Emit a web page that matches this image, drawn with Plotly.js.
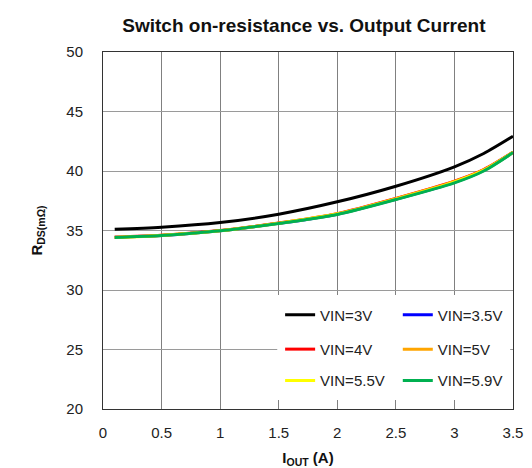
<!DOCTYPE html>
<html>
<head>
<meta charset="utf-8">
<script src="https://cdn.plot.ly/plotly-3.0.1.min.js"></script>
<style>html,body{margin:0;padding:0;background:#fff;}#chart{width:532px;height:468px;}</style>
</head>
<body>
<div id="chart"></div>
<script>
const current = [0.1, 0.5, 1.0, 1.5, 2.0, 2.5, 3.0, 3.25, 3.5];
const vin3   = [35.11, 35.28, 35.67, 36.37, 37.41, 38.72, 40.35, 41.47, 42.92];
const vin3p5 = [34.43, 34.59, 34.98, 35.60, 36.37, 37.63, 39.05, 40.05, 41.56];
const vin4   = [34.44, 34.60, 35.00, 35.63, 36.42, 37.70, 39.15, 40.12, 41.58];
const vin5   = [34.43, 34.60, 34.99, 35.62, 36.40, 37.68, 39.12, 40.10, 41.57];
const vin5p5 = [34.42, 34.59, 34.98, 35.60, 36.38, 37.64, 39.07, 40.05, 41.56];
const vin5p9 = [34.42, 34.58, 34.97, 35.59, 36.35, 37.60, 39.00, 40.00, 41.55];
const seriesNames = ['VIN=3V', 'VIN=3.5V', 'VIN=4V', 'VIN=5V', 'VIN=5.5V', 'VIN=5.9V'];
const xTicks = [0, 0.5, 1, 1.5, 2, 2.5, 3, 3.5];
const yTicks = [20, 25, 30, 35, 40, 45, 50];

const seriesData = [vin3, vin3p5, vin4, vin5, vin5p5, vin5p9];
const colors = ['#000000', '#0000ff', '#ff0000', '#ffa500', '#ffff00', '#00b050'];
const legendIds = ['legend', 'legend2', 'legend3', 'legend4', 'legend5', 'legend6'];
const legendX = [0.432, 0.719];
const legendY = [0.263, 0.167, 0.079];

const traces = seriesData.map((ys, i) => ({
  x: current, y: ys, type: 'scatter', mode: 'lines',
  name: seriesNames[i], legend: legendIds[i],
  line: {color: colors[i], width: 3, shape: 'spline', smoothing: 0.8}
}));

const font = {family: 'Liberation Sans, Arial, sans-serif', color: '#222'};

const layout = {
  width: 532, height: 468,
  margin: {l: 102.5, r: 19, t: 52, b: 59},
  paper_bgcolor: '#fff', plot_bgcolor: '#fff',
  showlegend: true,
  title: {
    text: '<b>Switch on-resistance vs. Output Current</b>',
    font: Object.assign({}, font, {size: 19, color: '#111'}),
    x: 0.49, xref: 'paper', y: 0.945, yref: 'container', yanchor: 'middle'
  },
  xaxis: {
    range: [0, 3.5], tickvals: xTicks, ticktext: xTicks.map(String),
    showgrid: true, gridcolor: '#808080', gridwidth: 1,
    showline: true, linecolor: '#333', linewidth: 1, mirror: true,
    zeroline: false, ticks: '', ticklabelstandoff: 10,
    tickfont: Object.assign({size: 15}, font),
    title: {text: '<b>I<sub>OUT</sub> (A)</b>', font: Object.assign({}, font, {size: 15, color: '#111'}), standoff: 12}
  },
  yaxis: {
    range: [20, 50], tickvals: yTicks, ticktext: yTicks.map(String),
    showgrid: true, gridcolor: '#9a9a9a', gridwidth: 1,
    showline: true, linecolor: '#333', linewidth: 1, mirror: true,
    zeroline: false, ticks: '', ticklabelstandoff: 16,
    tickfont: Object.assign({size: 15}, font),
    title: {text: '<b>R<sub>DS(mΩ)</sub></b>', font: Object.assign({}, font, {size: 15, color: '#111'}), standoff: 20}
  },
  shapes: [{
    type: 'rect', xref: 'paper', yref: 'paper', layer: 'above',
    x0: 0.425, x1: 0.993, y0: 0.025, y1: 0.319,
    fillcolor: '#ffffff', line: {width: 0}
  }]
};

legendIds.forEach((id, i) => {
  layout[id] = {
    x: legendX[i % 2], xanchor: 'left',
    y: legendY[Math.floor(i / 2)], yanchor: 'middle',
    bgcolor: 'rgba(0,0,0,0)', borderwidth: 0,
    font: Object.assign({size: 15}, font)
  };
});

Plotly.newPlot('chart', traces, layout, {displayModeBar: false});
</script>
</body>
</html>
